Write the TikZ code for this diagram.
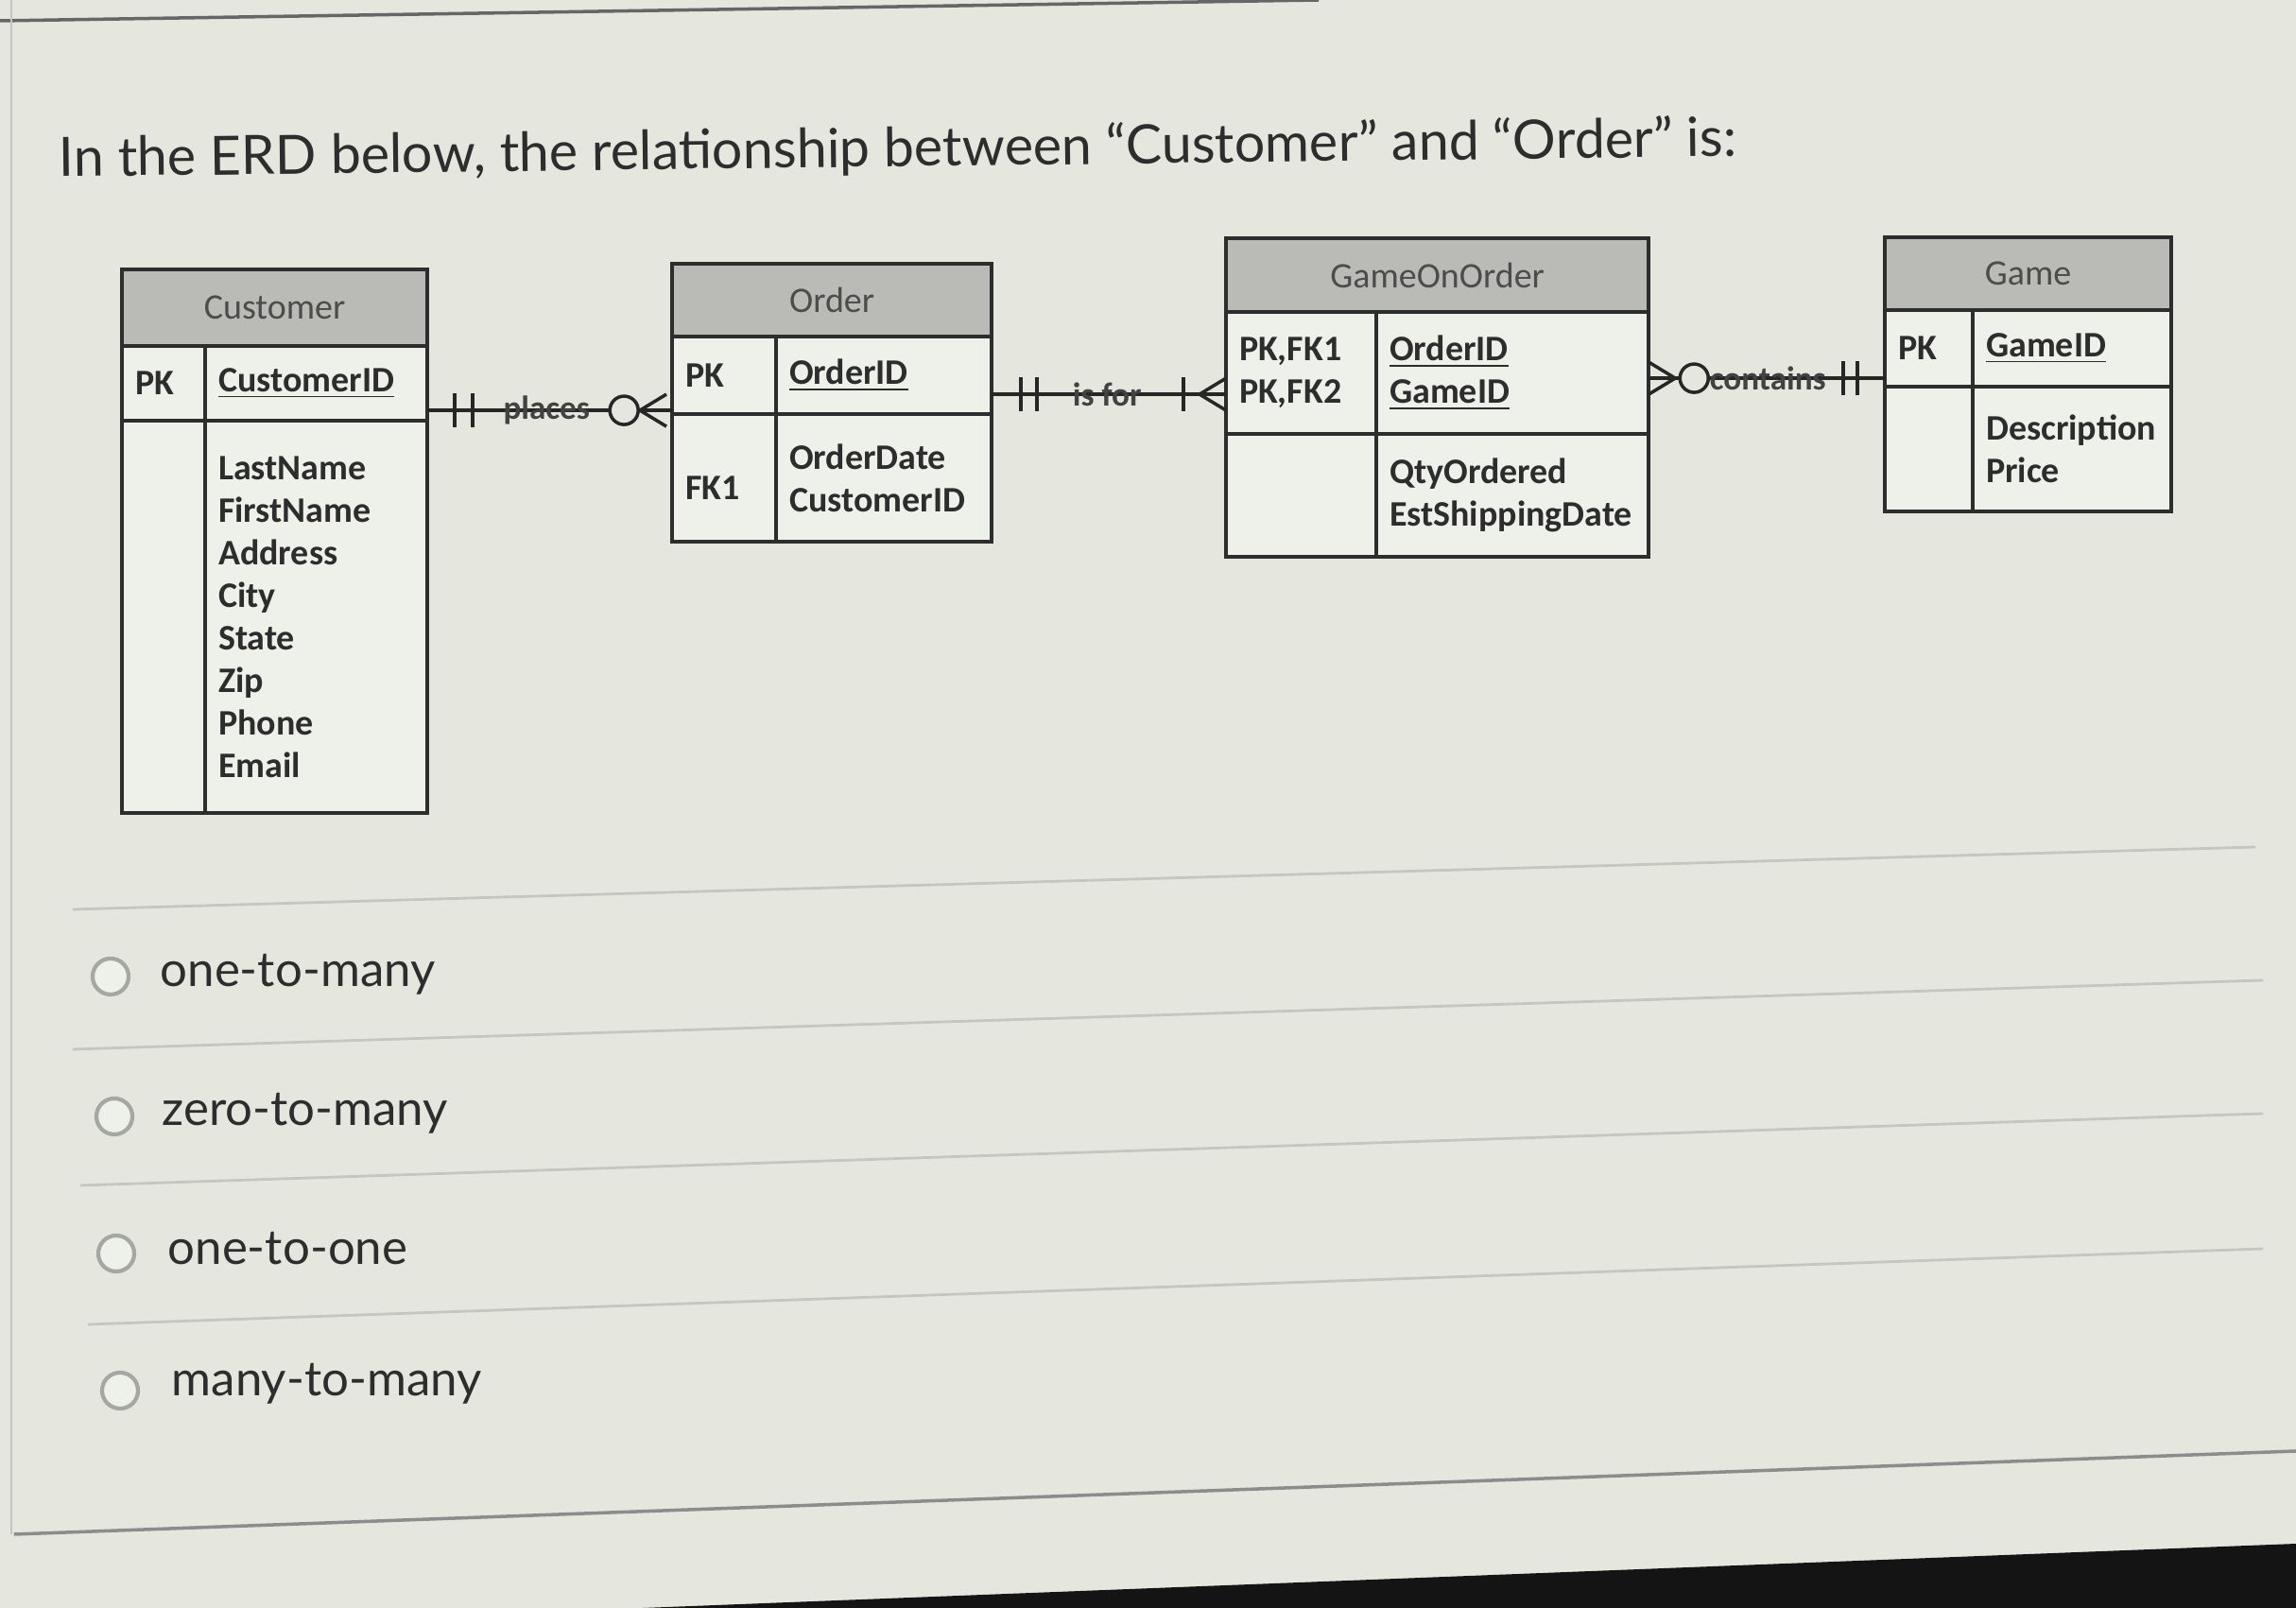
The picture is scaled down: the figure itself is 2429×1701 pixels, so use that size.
\documentclass[tikz,border=0pt]{standalone}
\usepackage{fontspec}
\usepackage{tikz}
\usetikzlibrary{calc,positioning}
\newfontfamily\lato{Lato}
\newfontfamily\carlito{Carlito}
\definecolor{screen}{RGB}{229,231,223}
\definecolor{cellwhite}{RGB}{238,240,234}
\definecolor{headgray}{RGB}{186,187,182}
\definecolor{ink}{RGB}{45,45,45}
\definecolor{rulegray}{RGB}{196,199,192}
\definecolor{radiogray}{RGB}{165,167,163}

\begin{document}
\begin{tikzpicture}[x=0.01cm,y=-0.01cm,
    tblhead/.style={draw=ink, fill=headgray, line width=1.1pt, anchor=north west, inner sep=0pt, outer sep=0pt,
      font=\carlito\fontsize{10.8}{12.8}\selectfont, text=ink!85},
    keycell/.style={draw=ink, fill=cellwhite, line width=1.1pt, anchor=north west, inner xsep=0.14cm,
      inner ysep=0pt, outer sep=0pt, align=left, font=\carlito\bfseries\fontsize{10.8}{12.8}\selectfont, text=ink},
    rel/.style={draw=black!85, line width=1pt},
    rellabel/.style={font=\carlito\bfseries\fontsize{10}{12}\selectfont, text=ink!90, inner sep=0pt},
    answer/.style={font=\lato\fontsize{14.5}{17}\selectfont, text=ink, anchor=west, inner sep=0pt},
    radio/.style={circle, draw=radiogray, line width=1.2pt, fill=cellwhite, minimum size=0.38cm, inner sep=0pt},
    sepline/.style={draw=rulegray, line width=0.8pt},
    pics/onebar/.style={code={\draw[rel] (0,-18) -- (0,18);}},
    pics/crowfoot/.style={code={\draw[rel] (0,0) -- (28,-17) (0,0) -- (28,0) (0,0) -- (28,17);}}]
  \useasboundingbox (0,0) rectangle (2429,1701);
  \fill[screen] (0,0) rectangle (2429,1701);
  \fill[black!92] (680,1701) -- (2429,1633) -- (2429,1701) -- cycle;
  \draw[draw=black!60, line width=1pt] (0,22) -- (1395,0);
  \draw[sepline] (12,0) -- (12,1623);

  \node[font=\lato\fontsize{16.3}{20}\selectfont, text=ink, anchor=west, inner sep=0pt, rotate=0.7]
    (question) at (62,170) {In the ERD below, the relationship between “Customer” and “Order” is:};

  % Customer
  \node[tblhead, minimum width=3.23cm, minimum height=0.81cm] (custhead) at (129,285) {Customer};
  \node[keycell, text width=0.60cm, minimum height=0.79cm] (custkey) at (custhead.south west) {PK};
  \node[keycell, text width=2.07cm, minimum height=0.79cm] (custfld) at (custkey.north east) {\underline{CustomerID}};
  \node[keycell, text width=0.60cm, minimum height=4.15cm] (custcol) at (custkey.south west) {};
  \node[keycell, text width=2.07cm, minimum height=4.15cm] (custattr) at (custcol.north east)
    {LastName\\FirstName\\Address\\City\\State\\Zip\\Phone\\Email};

  % Order
  \node[tblhead, minimum width=3.38cm, minimum height=0.77cm] (ordhead) at (711,279) {Order};
  \node[keycell, text width=0.82cm, minimum height=0.82cm] (ordkey) at (ordhead.south west) {PK};
  \node[keycell, text width=2.00cm, minimum height=0.82cm] (ordfld) at (ordkey.north east) {\underline{OrderID}};
  \node[keycell, text width=0.82cm, minimum height=1.35cm] (ordcol) at (ordkey.south west) {\mbox{}\\FK1};
  \node[keycell, text width=2.00cm, minimum height=1.35cm] (ordattr) at (ordcol.north east) {OrderDate\\CustomerID};

  % GameOnOrder
  \node[tblhead, minimum width=4.47cm, minimum height=0.78cm] (goohead) at (1297,252) {GameOnOrder};
  \node[keycell, text width=1.31cm, minimum height=1.29cm] (gookey) at (goohead.south west) {PK,FK1\\PK,FK2};
  \node[keycell, text width=2.60cm, minimum height=1.29cm] (goofld) at (gookey.north east)
    {\underline{OrderID}\\\underline{GameID}};
  \node[keycell, text width=1.31cm, minimum height=1.30cm] (goocol) at (gookey.south west) {};
  \node[keycell, text width=2.60cm, minimum height=1.30cm] (gooattr) at (goocol.north east)
    {QtyOrdered\\EstShippingDate};

  % Game
  \node[tblhead, minimum width=3.03cm, minimum height=0.77cm] (gamehead) at (1994,251) {Game};
  \node[keycell, text width=0.65cm, minimum height=0.81cm] (gamekey) at (gamehead.south west) {PK};
  \node[keycell, text width=1.82cm, minimum height=0.81cm] (gamefld) at (gamekey.north east) {\underline{GameID}};
  \node[keycell, text width=0.65cm, minimum height=1.32cm] (gamecol) at (gamekey.south west) {};
  \node[keycell, text width=1.82cm, minimum height=1.32cm] (gameattr) at (gamecol.north east) {Description\\Price};

  % relationships
  \coordinate (cust-ord) at ($(custfld.south east)+(0,-11)$);
  \draw[rel] (cust-ord) -- (cust-ord -| ordkey.west);
  \pic at ($(cust-ord)+(29,0)$) {onebar};
  \pic at ($(cust-ord)+(48,0)$) {onebar};
  \node[rellabel] (places) at ($(cust-ord)+(126,0)$) {places};
  \draw[rel, fill=screen] ($(cust-ord)+(208,0)$) circle[radius=0.15cm];
  \pic at ($(cust-ord -| ordkey.west)+(-34,0)$) {crowfoot};

  \coordinate (ord-goo) at ($(ordfld.south east)+(0,-21)$);
  \draw[rel] (ord-goo) -- (ord-goo -| gookey.west);
  \pic at ($(ord-goo)+(31,0)$) {onebar};
  \pic at ($(ord-goo)+(48,0)$) {onebar};
  \node[rellabel] (isfor) at ($(ord-goo)+(122,0)$) {is for};
  \pic at ($(ord-goo -| gookey.west)+(-45,0)$) {onebar};
  \pic at ($(ord-goo -| gookey.west)+(-28,0)$) {crowfoot};

  \coordinate (goo-game) at ($(gamekey.south west)+(0,-9)$);
  \draw[rel] (goo-game -| goofld.east) -- (goo-game);
  \pic[xscale=-1] at ($(goo-game -| goofld.east)+(28,0)$) {crowfoot};
  \node[rellabel] (contains) at ($(goo-game -| goofld.east)+(126,0)$) {contains};
  \draw[rel, fill=screen] ($(goo-game -| goofld.east)+(48,0)$) circle[radius=0.15cm];
  \pic at ($(goo-game)+(-44,0)$) {onebar};
  \pic at ($(goo-game)+(-29,0)$) {onebar};

  % answers
  \draw[sepline] (77,962) -- (2386,896);
  \draw[sepline] (77,1110) -- (2394,1037);
  \draw[sepline] (85,1254) -- (2394,1178);
  \draw[sepline] (93,1401) -- (2394,1321);
  \draw[draw=black!45, line width=1pt] (15,1623) -- (2429,1535);

  \node[radio] (opt1) at (117,1033) {};
  \node[answer] (ans1) at (169,1031) {one-to-many};
  \node[radio] (opt2) at (121,1181) {};
  \node[answer] (ans2) at (171,1178) {zero-to-many};
  \node[radio] (opt3) at (123,1326) {};
  \node[answer] (ans3) at (177,1321) {one-to-one};
  \node[radio] (opt4) at (127,1471) {};
  \node[answer] (ans4) at (181,1464) {many-to-many};
\end{tikzpicture}
\end{document}
